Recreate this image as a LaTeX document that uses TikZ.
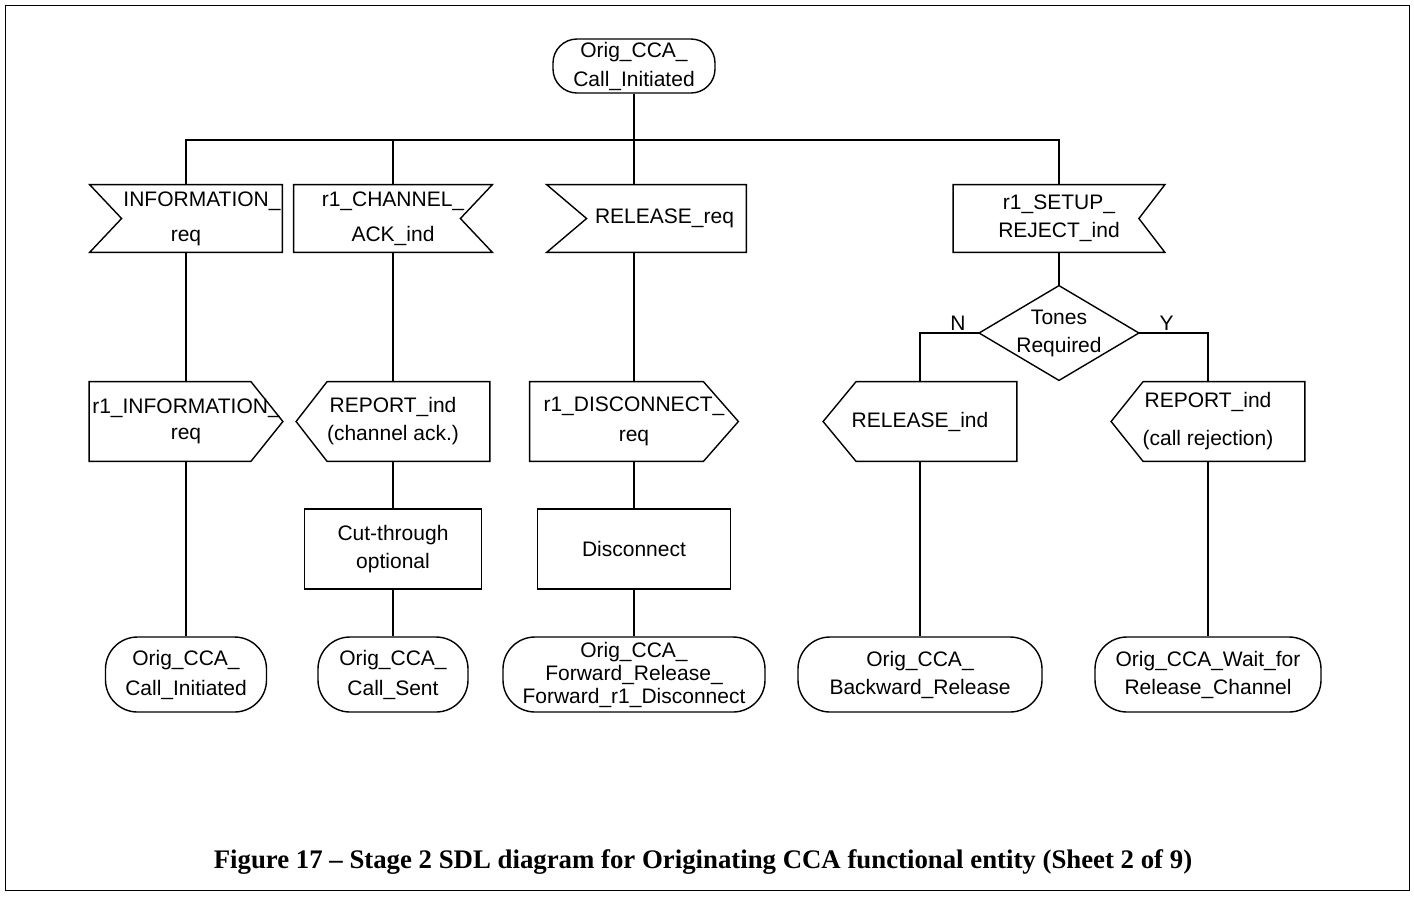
\documentclass[tikz,border=0pt]{standalone}
\usepackage{fontspec}
\setsansfont{Liberation Sans}
\newfontfamily\capfont{Liberation Serif}
\usetikzlibrary{calc}
\def\inleft[#1](#2){\draw[sdl] (#2.north west) -- (#2.north east) -- (#2.south east) -- (#2.south west) -- ($(#2.west)+(#1,0)$) -- cycle;}
\def\inright[#1](#2){\draw[sdl] (#2.north west) -- (#2.north east) -- ($(#2.east)+(-#1,0)$) -- (#2.south east) -- (#2.south west) -- cycle;}
\def\outright[#1](#2){\draw[sdl] (#2.north west) -- ($(#2.north east)+(-#1,0)$) -- (#2.east) -- ($(#2.south east)+(-#1,0)$) -- (#2.south west) -- cycle;}
\def\outleft[#1](#2){\draw[sdl] ($(#2.north west)+(#1,0)$) -- (#2.north east) -- (#2.south east) -- ($(#2.south west)+(#1,0)$) -- (#2.west) -- cycle;}
\def\decision(#1){\draw[sdl] (#1.north) -- (#1.east) -- (#1.south) -- (#1.west) -- cycle;}
\tikzset{
	sdl/.style={line width=0.7pt},
	sym/.style={inner sep=0pt, align=center, font=\sffamily\fontsize{10.5}{14}\selectfont},
	sdlstate/.style={sym, draw, sdl, rounded corners=16pt, minimum height=37.5pt},
	sdltask/.style={sym, draw, sdl, minimum height=40pt},
	insig/.style={sym, minimum height=33.5pt},
	outsig/.style={sym, minimum height=39.5pt},
	yesno/.style={font=\sffamily\fontsize{10.5}{14}\selectfont, above, inner sep=1pt}
}

\begin{document}
\begin{tikzpicture}[x=0.5pt,y=-0.5pt]
			%%%%% START %%%%%
			\useasboundingbox (0,0) rectangle (1414,896);
			\draw[line width=0.5pt] (5,5) rectangle (1409,890);
			
			\node[sdlstate, rounded corners=12pt, minimum width=81pt, minimum height=27pt] (start) at (634,66) {Orig\_CCA\_\\[0.5pt]Call\_Initiated};
			\coordinate (bus) at (634,140);
			
			% input signals
			\node[insig, minimum width=96pt] (infoReq) at (186,218.5) {\hspace*{16pt}INFORMATION\_\\[3.5pt]req};
			\inleft[32](infoReq)
			\node[insig, minimum width=99pt] (chanAck) at (393,218.5) {r1\_CHANNEL\_\\[3.5pt]ACK\_ind};
			\inright[32](chanAck)
			\node[insig, minimum width=99.5pt] (relReq) at (646.5,218.5) {\hspace*{18pt}RELEASE\_req};
			\inleft[40](relReq)
			\node[insig, minimum width=105.5pt] (setupRej) at (1059,218.5) {r1\_SETUP\_\\REJECT\_ind};
			\inright[26](setupRej)
			
			\node[sym, minimum width=79.5pt, minimum height=47pt] (tones) at (1059,333) {Tones\\Required};
			\decision(tones)
			
			% output signals
			\node[outsig, minimum width=96.5pt] (r1Info) at (186,421.5) {r1\_INFORMATION\_\\[-1pt]req};
			\outright[32](r1Info)
			\node[outsig, minimum width=96.5pt] (repAck) at (393,421.5) {REPORT\_ind\\(channel ack.)};
			\outleft[31](repAck)
			\node[outsig, minimum width=104pt] (discReq) at (634,421.5) {r1\_DISCONNECT\_\\[1pt]req};
			\outright[35](discReq)
			\node[outsig, minimum width=96.5pt] (relInd) at (920,421.5) {RELEASE\_ind};
			\outleft[33](relInd)
			\node[outsig, minimum width=96.5pt] (repRej) at (1208,421.5) {REPORT\_ind\\[5pt](call rejection)};
			\outleft[32](repRej)
			
			% tasks
			\node[sdltask, minimum width=88.5pt] (cutThr) at (393,549) {Cut-through\\optional};
			\node[sdltask, minimum width=96.5pt] (disc) at (634,549) {Disconnect};
			
			% next states
			\node[sdlstate, minimum width=80.5pt] (stCI) at (186,674.5) {Orig\_CCA\_\\[1pt]Call\_Initiated};
			\node[sdlstate, minimum width=75pt] (stCS) at (393,674.5) {Orig\_CCA\_\\[1pt]Call\_Sent};
			\node[sdlstate, minimum width=131pt] (stFR) at (634,674.5) {Orig\_CCA\_\\[-2.5pt]Forward\_Release\_\\[-2.5pt]Forward\_r1\_Disconnect};
			\node[sdlstate, minimum width=122pt] (stBR) at (920,674.5) {Orig\_CCA\_\\Backward\_Release};
			\node[sdlstate, minimum width=113pt] (stWR) at (1208,674.5) {Orig\_CCA\_Wait\_for\\Release\_Channel};
			
			% flow lines
			\draw[sdl] (start) -- (bus);
			\draw[sdl] (infoReq) |- (bus) -| (setupRej);
			\draw[sdl] (chanAck) -- (chanAck |- bus);
			\draw[sdl] (relReq.north -| bus) -- (bus);
			\draw[sdl] (relReq.south -| bus) -- (discReq);
			\foreach \a/\b in {infoReq/r1Info, r1Info/stCI, chanAck/repAck, repAck/cutThr, cutThr/stCS, discReq/disc, disc/stFR, setupRej/tones, relInd/stBR, repRej/stWR}
				\draw[sdl] (\a) -- (\b);
			\draw[sdl] (tones.west) -| node[yesno, pos=0.18] (lblN) {N} (relInd);
			\draw[sdl] (tones.east) -| node[yesno, pos=0.2] (lblY) {Y} (repRej);
			
			\node[font=\capfont\bfseries\fontsize{13.4}{16}\selectfont] (caption) at (703,862) {Figure 17 – Stage 2 SDL diagram for Originating CCA functional entity (Sheet 2 of 9)};
			%%%%% END %%%%%
\end{tikzpicture}
\end{document}
